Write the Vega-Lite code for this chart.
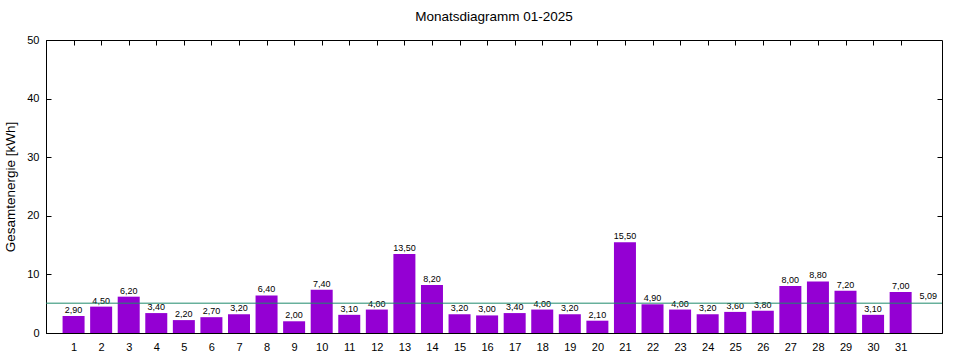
{
  "$schema": "https://vega.github.io/schema/vega-lite/v6.json",
  "autosize": {"type": "none"},
  "width": 896,
  "height": 293,
  "padding": {"left": 46, "top": 40, "right": 18, "bottom": 27},
  "background": "white",
  "config": {
    "font": "Liberation Sans",
    "locale": {"number": {"decimal": ",", "thousands": ".", "grouping": [3], "currency": ["", " €"]}},
    "view": {"stroke": "black", "strokeWidth": 1},
    "axis": {
      "grid": false,
      "domainColor": "black",
      "tickColor": "black",
      "labelColor": "black",
      "titleColor": "black",
      "labelFont": "Liberation Sans",
      "titleFont": "Liberation Sans",
      "labelFontSize": 11,
      "titleFontSize": 13.5,
      "titleFontWeight": "normal"
    }
  },
  "title": {"text": "Monatsdiagramm 01-2025", "fontSize": 13.5, "fontWeight": "normal", "color": "black", "offset": 11, "anchor": "middle", "font": "Liberation Sans"},
  "datasets": {
    "tage": [
      {"tag": 1, "kwh": 2.9}, {"tag": 2, "kwh": 4.5}, {"tag": 3, "kwh": 6.2}, {"tag": 4, "kwh": 3.4},
      {"tag": 5, "kwh": 2.2}, {"tag": 6, "kwh": 2.7}, {"tag": 7, "kwh": 3.2}, {"tag": 8, "kwh": 6.4},
      {"tag": 9, "kwh": 2.0}, {"tag": 10, "kwh": 7.4}, {"tag": 11, "kwh": 3.1}, {"tag": 12, "kwh": 4.0},
      {"tag": 13, "kwh": 13.5}, {"tag": 14, "kwh": 8.2}, {"tag": 15, "kwh": 3.2}, {"tag": 16, "kwh": 3.0},
      {"tag": 17, "kwh": 3.4}, {"tag": 18, "kwh": 4.0}, {"tag": 19, "kwh": 3.2}, {"tag": 20, "kwh": 2.1},
      {"tag": 21, "kwh": 15.5}, {"tag": 22, "kwh": 4.9}, {"tag": 23, "kwh": 4.0}, {"tag": 24, "kwh": 3.2},
      {"tag": 25, "kwh": 3.6}, {"tag": 26, "kwh": 3.8}, {"tag": 27, "kwh": 8.0}, {"tag": 28, "kwh": 8.8},
      {"tag": 29, "kwh": 7.2}, {"tag": 30, "kwh": 3.1}, {"tag": 31, "kwh": 7.0}
    ],
    "mittel": [{"pos": 32, "avg": 5.09}]
  },
  "layer": [
    {
      "data": {"name": "tage"},
      "mark": {"type": "bar", "color": "#9400D3", "size": 22},
      "encoding": {
        "x": {
          "field": "tag", "type": "quantitative",
          "scale": {"domain": [0, 32.5], "nice": false, "zero": false, "padding": 0},
          "axis": {"orient": "bottom", "values": [1,2,3,4,5,6,7,8,9,10,11,12,13,14,15,16,17,18,19,20,21,22,23,24,25,26,27,28,29,30,31], "tickSize": 0, "labelPadding": 8, "title": null, "format": "d", "labelFlush": false}
        },
        "y": {
          "field": "kwh", "type": "quantitative",
          "scale": {"domain": [0, 50], "nice": false, "padding": 0},
          "axis": {"orient": "left", "values": [0, 10, 20, 30, 40, 50], "tickSize": -5, "labelPadding": 12, "title": "Gesamtenergie [kWh]", "titlePadding": 9, "format": "d", "labelFlush": false}
        }
      }
    },
    {
      "data": {"name": "tage"},
      "mark": {"type": "text", "fontSize": 9, "baseline": "bottom", "dy": -1, "color": "black", "font": "Liberation Sans"},
      "encoding": {
        "x": {
          "field": "tag", "type": "quantitative",
          "axis": {"orient": "top", "values": [1,2,3,4,5,6,7,8,9,10,11,12,13,14,15,16,17,18,19,20,21,22,23,24,25,26,27,28,29,30,31], "tickSize": -5, "labels": false, "title": null, "domain": false}
        },
        "y": {
          "field": "kwh", "type": "quantitative",
          "axis": {"orient": "right", "values": [10, 20, 30, 40], "tickSize": -5, "labels": false, "title": null, "domain": false}
        },
        "text": {"field": "kwh", "type": "quantitative", "format": ".2f"}
      }
    },
    {
      "data": {"name": "mittel"},
      "mark": {"type": "rule", "color": "#1f8a6c", "strokeWidth": 1},
      "encoding": {
        "y": {"field": "avg", "type": "quantitative", "axis": null}
      }
    },
    {
      "data": {"name": "mittel"},
      "mark": {"type": "text", "fontSize": 9, "baseline": "bottom", "dy": -2, "color": "black", "font": "Liberation Sans"},
      "encoding": {
        "x": {"field": "pos", "type": "quantitative", "axis": null},
        "y": {"field": "avg", "type": "quantitative", "axis": null},
        "text": {"field": "avg", "type": "quantitative", "format": ".2f"}
      }
    }
  ],
  "resolve": {"axis": {"x": "independent", "y": "independent"}}
}
